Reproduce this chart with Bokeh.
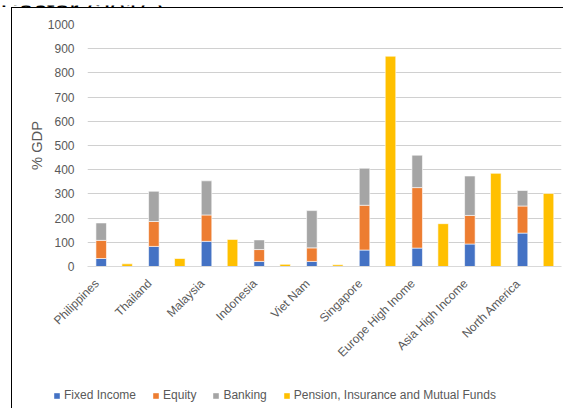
import math
from bokeh.plotting import figure
from bokeh.layouts import column
from bokeh.models import (ColumnDataSource, Range1d, FixedTicker, Legend, LegendItem,
                          Label)
from bokeh.embed import file_html
from bokeh.resources import INLINE

title_text = "Sector (2016)"
categories = ["Philippines", "Thailand", "Malaysia", "Indonesia", "Viet Nam",
              "Singapore", "Europe High Inome", "Asia High Income", "North America"]
fixed_income = [33, 83, 104, 21, 21, 68, 76, 93, 138]
equity = [75, 103, 109, 49, 56, 185, 250, 118, 112]
banking = [72, 125, 141, 40, 154, 153, 134, 163, 64]
pension = [11, 33, 112, 9, 7, 869, 177, 385, 302]
y_ticks = list(range(0, 1001, 100))
series_names = ["Fixed Income", "Equity", "Banking", "Pension, Insurance and Mutual Funds"]
series_colors = ["#4472C4", "#ED7D31", "#A5A5A5", "#FFC000"]

FONT = "Liberation Sans"
GREY_TEXT = "#595959"

n = len(categories)
stack_x = [i + 0.26 for i in range(n)]
pens_x = [i + 0.753 for i in range(n)]
fe = [a + b for a, b in zip(fixed_income, equity)]
feb = [a + b for a, b in zip(fe, banking)]

src = ColumnDataSource(dict(sx=stack_x, px=pens_x, fi=fixed_income, fe=fe, feb=feb,
                            pen=pension, zero=[0] * n))
segments = [("sx", "zero", "fi"), ("sx", "fi", "fe"), ("sx", "fe", "feb"),
            ("px", "zero", "pen")]


def bare(fig):
    fig.frame_align = False
    fig.outline_line_color = None
    fig.background_fill_color = None
    fig.border_fill_color = None


# title strip (the chart title is mostly cropped off in the reference)
pt = figure(width=563, height=7, output_backend="svg", toolbar_location=None,
            x_range=Range1d(0, 1), y_range=Range1d(0, 1), min_border=0)
bare(pt)
pt.axis.visible = False
pt.grid.visible = False
pt.add_layout(Label(x=0, y=2, x_units="screen", y_units="screen", text=title_text,
                    text_font=FONT, text_font_size="27px", text_color="#000000",
                    text_baseline="alphabetic"))

p = figure(width=563, height=371, output_backend="svg", toolbar_location=None,
           x_range=Range1d(0, n), y_range=Range1d(0, 1000),
           min_border_left=87, min_border_right=2, min_border_top=17,
           min_border_bottom=112)
bare(p)

W = 0.2
for (xf, b, t), col in zip(segments, series_colors):
    p.vbar(x=xf, bottom=b, top=t, width=W, source=src,
           fill_color=col, line_color="white", line_width=0.6)

# x axis
tick_pos = [i + 0.18 for i in range(n)]
p.xaxis.ticker = FixedTicker(ticks=tick_pos)
p.xaxis.major_label_overrides = {t: c for t, c in zip(tick_pos, categories)}
p.xaxis.major_label_orientation = math.pi / 4
p.xaxis.major_tick_line_color = None
p.xaxis.minor_tick_line_color = None
p.xaxis.axis_line_color = "#d9d9d9"
p.xaxis.major_label_text_font = FONT
p.xaxis.major_label_text_font_size = "12px"
p.xaxis.major_label_text_color = GREY_TEXT
p.xaxis.major_label_standoff = 9
p.xgrid.grid_line_color = None

# y axis
p.yaxis.ticker = FixedTicker(ticks=y_ticks)
p.yaxis.axis_line_color = None
p.yaxis.major_tick_line_color = None
p.yaxis.minor_tick_line_color = None
p.yaxis.major_label_text_font = FONT
p.yaxis.major_label_text_font_size = "12px"
p.yaxis.major_label_text_color = GREY_TEXT
p.yaxis.major_label_standoff = 7
p.yaxis.axis_label = "% GDP"
p.yaxis.axis_label_text_font = FONT
p.yaxis.axis_label_text_font_size = "14.7px"
p.yaxis.axis_label_text_font_style = "normal"
p.yaxis.axis_label_text_color = GREY_TEXT
p.yaxis.axis_label_standoff = 0
p.ygrid.grid_line_color = "#d0d0d0"
p.ygrid.grid_line_width = 1

# legend strip below the chart (proxy renderers share the data, kept out of view)
pl = figure(width=563, height=30, output_backend="svg", toolbar_location=None,
            x_range=Range1d(-3, -2), y_range=Range1d(0, 1), min_border=0)
bare(pl)
pl.axis.visible = False
pl.grid.visible = False
items = []
for (xf, b, t), col, name in zip(segments, series_colors, series_names):
    r = pl.vbar(x=xf, bottom=b, top=t, width=W, source=src,
                fill_color=col, line_color=None)
    items.append(LegendItem(label=name, renderers=[r]))

legend = Legend(items=items, location=(53, 6), orientation="horizontal")
legend.padding = 0
legend.margin = 0
legend.spacing = 16
legend.glyph_width = 7
legend.glyph_height = 7
legend.label_height = 10
legend.label_standoff = 4
legend.label_text_font = FONT
legend.label_text_font_size = "12px"
legend.label_text_color = GREY_TEXT
legend.border_line_color = None
legend.background_fill_alpha = 0
pl.add_layout(legend, "center")

layout = column(pt, p, pl, spacing=0)
layout.styles = {
    "background": ("linear-gradient(#000, #000) 11px 7px / 1px 100% no-repeat, "
                   "linear-gradient(#000, #000) 11px 7px / 100% 1px no-repeat, #ffffff"),
}

open("out.html", "w").write(file_html(layout, INLINE))
